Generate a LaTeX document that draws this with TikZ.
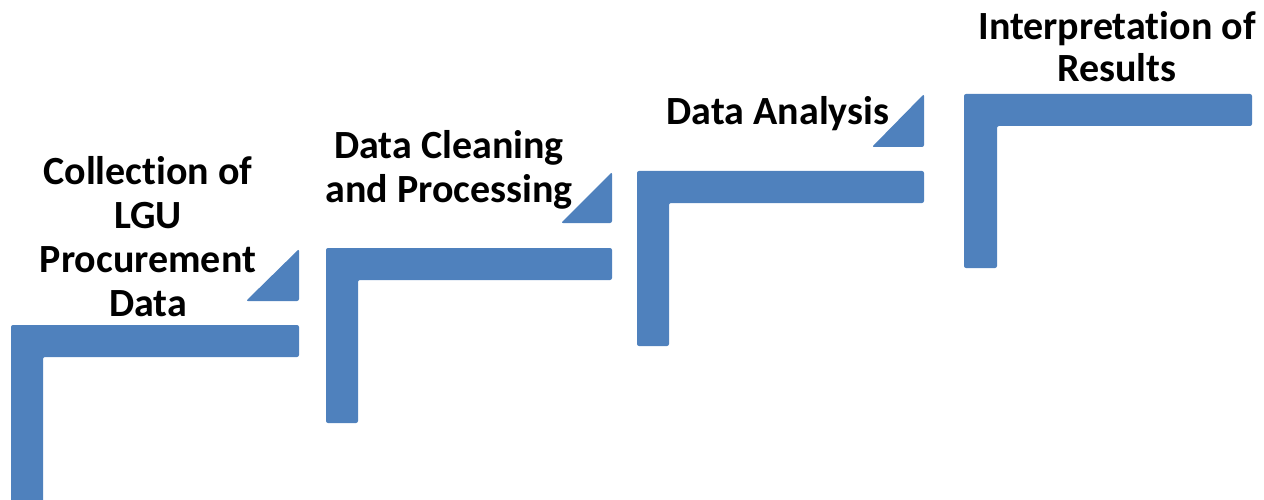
\documentclass[tikz,border=0pt]{standalone}
\usepackage{fontspec}
\setmainfont{Carlito}[Ligatures=NoCommon, RawFeature={-liga;-clig;-calt}]
\definecolor{stepblue}{HTML}{4F81BD}
\begin{document}
\begin{tikzpicture}[x=1pt,y=-1pt,
  stair/.style={fill=stepblue, rounded corners=2pt},
  label/.style={font=\bfseries\fontsize{40}{44}\selectfont, align=center, inner sep=0pt, text=black}]
\useasboundingbox (0,0) rectangle (1264,500);
% step 1
\fill[stair] (11,506) -- (11,325) -- (299,325) -- (299,357) -- (43,357) -- (43,506) -- cycle;
\fill[stair] (246,301) -- (299,249) -- (299,301) -- cycle;
% step 2
\fill[stair] (326,423) -- (326,248) -- (612,248) -- (612,280) -- (358,280) -- (358,423) -- cycle;
\fill[stair] (561,223) -- (612,172) -- (612,223) -- cycle;
% step 3
\fill[stair] (637,346) -- (637,171) -- (924,171) -- (924,203) -- (669,203) -- (669,346) -- cycle;
\fill[stair] (872,147) -- (924,94) -- (924,147) -- cycle;
% step 4
\fill[stair] (964,268) -- (964,94) -- (1252,94) -- (1252,126) -- (997,126) -- (997,268) -- cycle;
% labels
\node[label] (t1) at (148,237) {Collection of\\LGU\\Procurement\\Data};
\node[label] (t2) at (449,170) {Data Cleaning\\and Processing};
\node[label] (t3) at (778,114) {Data Analysis};
\node[label, font=\bfseries\fontsize{40}{42}\selectfont] (t4) at (1117,47) {Interpretation of\\Results};
\end{tikzpicture}
\end{document}
